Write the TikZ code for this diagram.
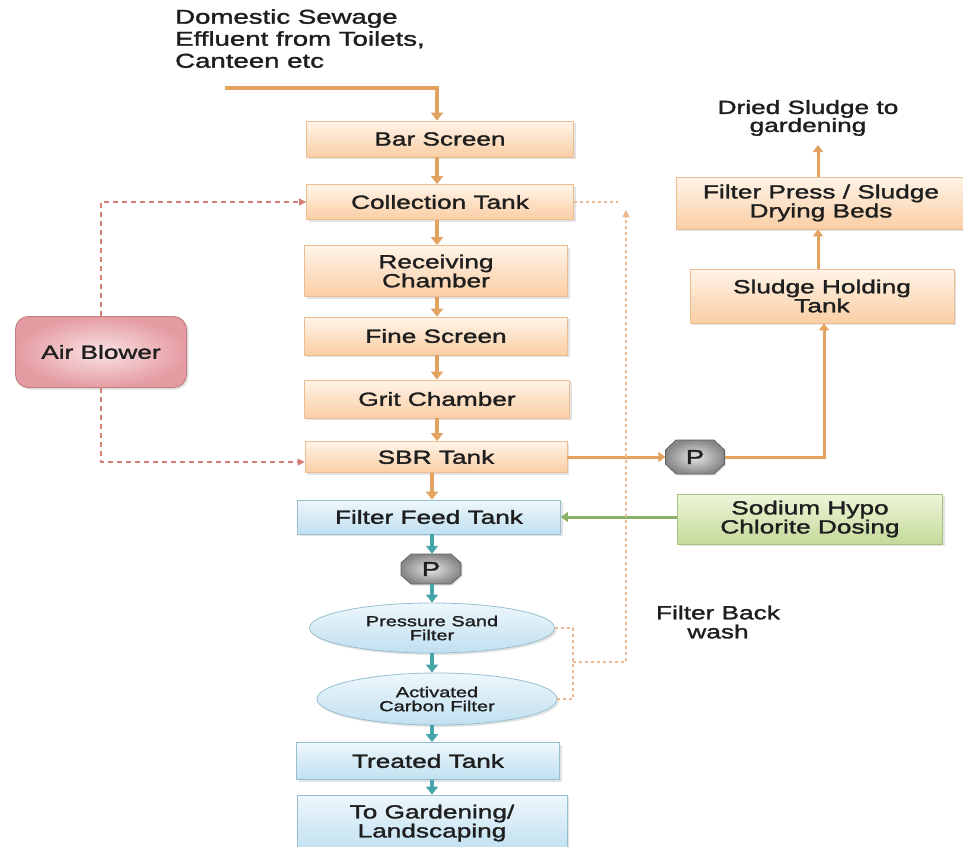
\documentclass[tikz,border=0pt]{standalone}
\usepackage{fontspec}
\setmainfont{Liberation Sans}[FakeStretch=1.38,FakeBold=1.6]
\usetikzlibrary{arrows.meta,shapes.geometric,shapes.misc,shadows}

\definecolor{txt}{RGB}{30,30,30}
\definecolor{otop}{RGB}{255,244,232}
\definecolor{obot}{RGB}{250,206,164}
\definecolor{oline}{RGB}{236,188,146}
\definecolor{oarrc}{RGB}{226,162,96}
\definecolor{btop}{RGB}{238,247,252}
\definecolor{bbot}{RGB}{192,224,240}
\definecolor{bline}{RGB}{150,192,208}
\definecolor{tarrc}{RGB}{72,165,170}
\definecolor{gtop}{RGB}{238,245,218}
\definecolor{gbot}{RGB}{196,218,154}
\definecolor{gline}{RGB}{168,194,128}
\definecolor{garrc}{RGB}{140,176,104}
\definecolor{ptop}{RGB}{250,226,228}
\definecolor{pbot}{RGB}{228,156,162}
\definecolor{pline}{RGB}{196,128,134}
\definecolor{adashc}{RGB}{214,128,116}
\definecolor{bdashc}{RGB}{238,184,144}
\definecolor{pumpin}{RGB}{230,230,230}
\definecolor{pumpout}{RGB}{135,135,135}
\definecolor{pumpline}{RGB}{95,95,95}

\tikzset{
  lbl/.style={text=txt, font=\fontsize{19}{19}\selectfont, align=center, inner sep=0pt},
  shad/.style={drop shadow={opacity=0.22, shadow xshift=2pt, shadow yshift=-2pt}},
  obox/.style={lbl, rectangle, draw=oline, line width=0.8pt, top color=otop, bottom color=obot, shad},
  bbox/.style={lbl, rectangle, draw=bline, line width=0.8pt, top color=btop, bottom color=bbot, shad},
  gbox/.style={lbl, rectangle, draw=gline, line width=0.8pt, top color=gtop, bottom color=gbot, shad},
  ell/.style={lbl, ellipse, draw=bline, line width=0.8pt, top color=btop, bottom color=bbot, shad,
              font=\fontsize{14.5}{14}\selectfont},
  airbox/.style={lbl, rectangle, rounded corners=13pt, draw=pline, line width=1pt, inner color=ptop, outer color=pbot, shad},
  pumpoct/.style={draw=pumpline, line width=0.8pt, inner color=pumpin, outer color=pumpout,
                  drop shadow={opacity=0.2, shadow xshift=1.5pt, shadow yshift=-1.5pt}},
  pumplbl/.style={lbl, rectangle, font=\fontsize{20}{20}\selectfont},
  oarr/.style={draw=oarrc, line width=4pt, -{Triangle[width=12pt,length=8pt]}},
  sarr/.style={draw=oarrc, line width=3pt, -{Triangle[width=10pt,length=7pt]}},
  tarr/.style={draw=tarrc, line width=4pt, -{Triangle[width=12pt,length=8pt]}},
  garr/.style={draw=garrc, line width=3pt, -{Triangle[width=10pt,length=7pt]}},
  adash/.style={draw=adashc, line width=1.2pt, dash pattern=on 5pt off 4pt, -{Triangle[width=7pt,length=7pt]}},
  bdash/.style={draw=bdashc, line width=1.4pt, dash pattern=on 3pt off 3pt},
}

\begin{document}
\begin{tikzpicture}[x=1pt,y=-1pt]
\clip (0,0) rectangle (963,846);
\fill[white] (0,0) rectangle (963,846);

% column guides
\coordinate (cA) at (437,0);
\coordinate (cB) at (432,0);
\coordinate (cS) at (818,0);
\coordinate (cT) at (824,0);
\coordinate (bx) at (573,0);

% main chain
\node[obox, minimum width=267pt, minimum height=36pt] (bar) at (440,139) {Bar Screen};
\node[obox, minimum width=267pt, minimum height=35pt] (coll) at (440,202) {Collection Tank};
\node[obox, minimum width=263pt, minimum height=51pt] (recv) at (436,271) {Receiving\\Chamber};
\node[obox, minimum width=263pt, minimum height=38pt] (fine) at (436,336) {Fine Screen};
\node[obox, minimum width=265pt, minimum height=38pt] (grit) at (437,399) {Grit Chamber};
\node[obox, minimum width=262pt, minimum height=31pt] (sbr) at (436,457) {SBR Tank};
\node[bbox, minimum width=263pt, minimum height=34pt] (feed) at (429,517) {Filter Feed Tank};

% pumps (octagons)
\shade[pumpoct, shift={(431,569)}] (-20,-15) -- (20,-15) -- (30,-6) -- (30,6) -- (20,15) -- (-20,15) -- (-30,6) -- (-30,-6) -- cycle;
\node[pumplbl, minimum width=60pt, minimum height=30pt] (p1) at (431,569) {P};
\shade[pumpoct, shift={(695,457)}] (-19,-17) -- (19,-17) -- (29.5,-7) -- (29.5,7) -- (19,17) -- (-19,17) -- (-29.5,7) -- (-29.5,-7) -- cycle;
\node[pumplbl, minimum width=59pt, minimum height=34pt] (p2) at (695,457) {P};

\node[ell, minimum width=245pt, minimum height=50pt] (sand) at (432,628) {Pressure Sand\\Filter};
\node[ell, minimum width=240pt, minimum height=52pt] (carbon) at (437,699) {Activated\\Carbon Filter};
\node[bbox, minimum width=263pt, minimum height=37pt] (treated) at (428,761) {Treated Tank};
\node[bbox, minimum width=270pt, minimum height=56pt] (garden) at (432,823) {To Gardening/\\Landscaping};

% side elements
\node[airbox, minimum width=171pt, minimum height=71pt] (air) at (101,352) {Air Blower};
\node[gbox, minimum width=265pt, minimum height=50pt] (green) at (810,519) {Sodium Hypo\\Chlorite Dosing};
\node[obox, minimum width=264pt, minimum height=54pt] (sludge) at (822,296) {Sludge Holding\\Tank};
\node[obox, minimum width=290pt, minimum height=52pt] (press) at (821,203) {Filter Press / Sludge\\Drying Beds};
\node[lbl, font=\fontsize{19}{18}\selectfont] (dried) at (808,118) {Dried Sludge to\\gardening};
\node[lbl, font=\fontsize{20}{22}\selectfont, align=left, anchor=north west] (dom) at (175,9)
  {Domestic Sewage\\Effluent from Toilets,\\Canteen etc};
\node[lbl] (bwtext) at (718,622) {Filter Back\\wash};

% inflow
\coordinate (din) at (225,88);
\draw[oarr] (din) -| (bar.north -| cA);

% main chain arrows
\draw[oarr] (bar.south -| cA) -- (coll.north -| cA);
\draw[oarr] (coll.south -| cA) -- (recv.north -| cA);
\draw[oarr] (recv.south -| cA) -- (fine.north -| cA);
\draw[oarr] (fine.south -| cA) -- (grit.north -| cA);
\draw[oarr] (grit.south -| cA) -- (sbr.north -| cA);
\draw[oarr] (sbr.south -| cB) -- (feed.north -| cB);

\draw[tarr] (feed.south -| cB) -- (p1.north -| cB);
\draw[tarr] (p1.south -| cB) -- (sand.north -| cB);
\draw[tarr] (sand.south -| cB) -- (carbon.north -| cB);
\draw[tarr] (carbon.south -| cB) -- (treated.north -| cB);
\draw[tarr] (treated.south -| cB) -- (garden.north -| cB);

% dosing
\draw[garr] (green.west |- feed.east) -- (feed.east);

% air
\draw[adash] (air.north) |- (coll.west);
\draw[adash] (air.south) |- ([yshift=-5pt]sbr.west);

% sludge line
\draw[sarr] (sbr.east) -- (p2.west);
\draw[sarr] (p2.east) -| (sludge.south -| cT);
\draw[sarr] (sludge.north -| cS) -- (press.south -| cS);
\draw[sarr, shorten >=9pt] (press.north -| cS) -- (dried.south -| cS);

% backwash
\draw[bdash] (sand.east) -- (sand.east -| bx) -- (carbon.east -| bx) -- (carbon.east);
\coordinate (bm) at (573,662);
\coordinate (btop) at (626,210);
\coordinate (bc) at (618,202);
\draw[bdash, -{Triangle[width=7pt,length=7pt]}] (bm) -| (btop);
\draw[bdash] (coll.east) -- (bc);
\end{tikzpicture}
\end{document}
